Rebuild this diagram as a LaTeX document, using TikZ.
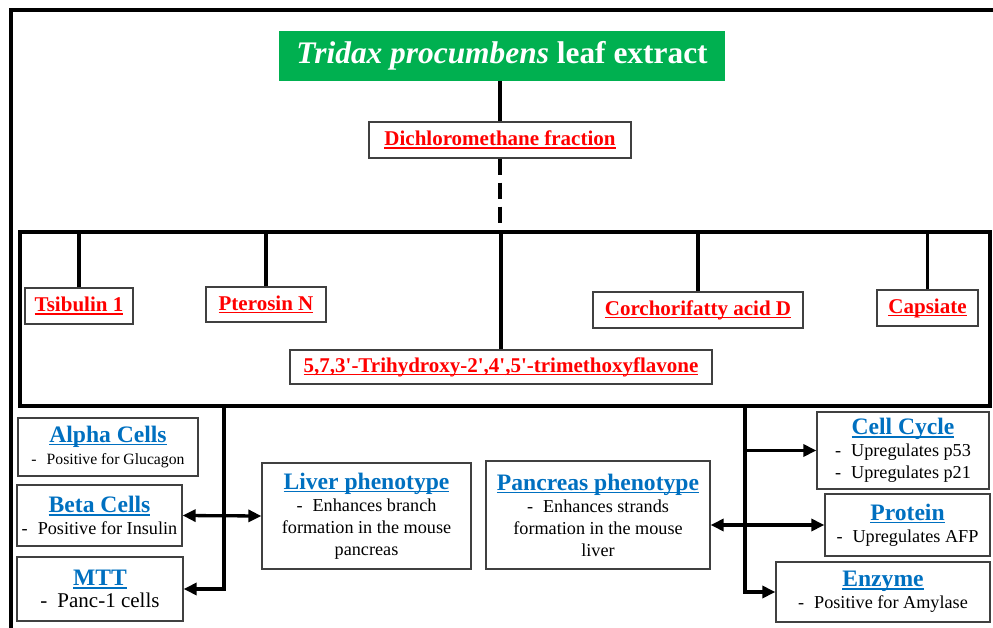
\documentclass[tikz,border=0pt]{standalone}
\usepackage{fontspec}
\setmainfont{Liberation Serif}
\usetikzlibrary{arrows.meta}
\definecolor{leafgreen}{HTML}{00B050}
\definecolor{headblue}{HTML}{0070C0}
\definecolor{cpdred}{HTML}{FF0000}
% underline a short label just below the baseline
\newcommand{\undr}[1]{\setbox0\hbox{#1}\rlap{\rule[-3pt]{\wd0}{1.4pt}}\box0}
\newcommand{\dashitem}{-\hspace{10pt}}
\newcommand{\cellhead}[1]{{\fontsize{23.6}{27}\selectfont\bfseries\color{headblue}\undr{#1}}}
\newcommand{\q}{\textquotesingle}

\begin{document}
\begin{tikzpicture}[x=1pt,y=-1pt,
    box/.style={draw=black!75,line width=1.3pt,inner sep=2pt,align=center,
      font=\fontsize{18.2}{22}\selectfont},
    cpd/.style={box,text=cpdred,font=\fontsize{21}{24}\selectfont\bfseries},
    link/.style={line width=3.3pt},
    arr/.style={link,-{Triangle[length=13pt,width=12pt]}},
    darr/.style={link,{Triangle[length=13pt,width=12pt]}-{Triangle[length=13pt,width=12pt]}}]
  \useasboundingbox (0,0) rectangle (993,628);
  \draw[line width=3.3pt] (11,628) -- (11,10) -- (993,10);

  % extract and fraction
  \node[fill=leafgreen,text=white,minimum width=446pt,minimum height=50pt,inner sep=0pt,
    font=\fontsize{31.4}{36}\selectfont\bfseries] (extract) at (502,56)
    {\textit{Tridax procumbens} leaf extract};
  \node[cpd,minimum width=262pt,minimum height=36pt] (dcm) at (500,140)
    {\undr{Dichloromethane fraction}};

  % compounds
  \coordinate (grp nw) at (20,232);
  \coordinate (grp se) at (990,406);
  \node[cpd,minimum width=108pt,minimum height=36pt] (tsib) at (79,306) {\undr{Tsibulin 1}};
  \node[cpd,minimum width=120pt,minimum height=35pt] (pter) at (266,304.5) {\undr{Pterosin N}};
  \node[cpd,minimum width=422pt,minimum height=34pt] (flav) at (501,367)
    {\undr{5,7,3\q-Trihydroxy-2\q,4\q,5\q-trimethoxyflavone}};
  \node[cpd,minimum width=210pt,minimum height=36pt] (corch) at (698,310) {\undr{Corchorifatty acid D}};
  \node[cpd,minimum width=101pt,minimum height=36pt] (caps) at (927.5,308) {\undr{Capsiate}};

  % assays
  \node[box,minimum width=180pt,minimum height=58pt] (alpha) at (108,447)
    {\cellhead{Alpha Cells}\\{\fontsize{15.7}{19}\selectfont\dashitem Positive for Glucagon}};
  \node[box,minimum width=165pt,minimum height=61pt] (beta) at (99.5,515.5)
    {\cellhead{Beta Cells}\\\dashitem Positive for Insulin};
  \node[box,minimum width=166pt,minimum height=64pt] (mtt) at (100,589)
    {\cellhead{MTT}\\{\fontsize{21}{24}\selectfont\dashitem Panc-1 cells}};
  \node[box,minimum width=209pt,minimum height=106pt] (liver) at (366.5,516)
    {\cellhead{Liver phenotype}\\\dashitem Enhances branch\\formation in the mouse\\pancreas};
  \node[box,minimum width=224pt,minimum height=108pt] (panc) at (598,515)
    {\cellhead{Pancreas phenotype}\\\dashitem Enhances strands\\formation in the mouse\\liver};
  \node[box,minimum width=172pt,minimum height=77pt] (cycle) at (903,450.5)
    {\cellhead{Cell Cycle}\\\dashitem Upregulates p53\\\dashitem Upregulates p21};
  \node[box,minimum width=165pt,minimum height=62pt] (prot) at (907.5,525)
    {\cellhead{Protein}\\\dashitem Upregulates AFP};
  \node[box,minimum width=214pt,minimum height=60pt] (enz) at (883,592)
    {\cellhead{Enzyme}\\\dashitem Positive for Amylase};

  % connectors
  \draw[link] (dcm.north) -- (dcm.north |- extract.south);
  \draw[link,dash pattern=on 16pt off 8pt] (dcm.south) -- (dcm.south |- grp nw);
  \draw[link] (grp nw) rectangle (grp se);
  \foreach \c in {tsib,pter,flav,corch,caps}
    \draw[link] (\c.north) -- (\c.north |- grp nw);

  \coordinate (lbus) at (224,406);
  \coordinate (rbus) at (745,406);
  \draw[arr] (lbus) |- (mtt.east);
  \draw[darr] (beta.east) -- (liver.west);
  \draw[arr] (rbus) |- (enz.west);
  \draw[arr] (rbus |- cycle.west) -- (cycle.west);
  \draw[darr] (prot.west -| panc.east) -- (prot.west);
\end{tikzpicture}
\end{document}
